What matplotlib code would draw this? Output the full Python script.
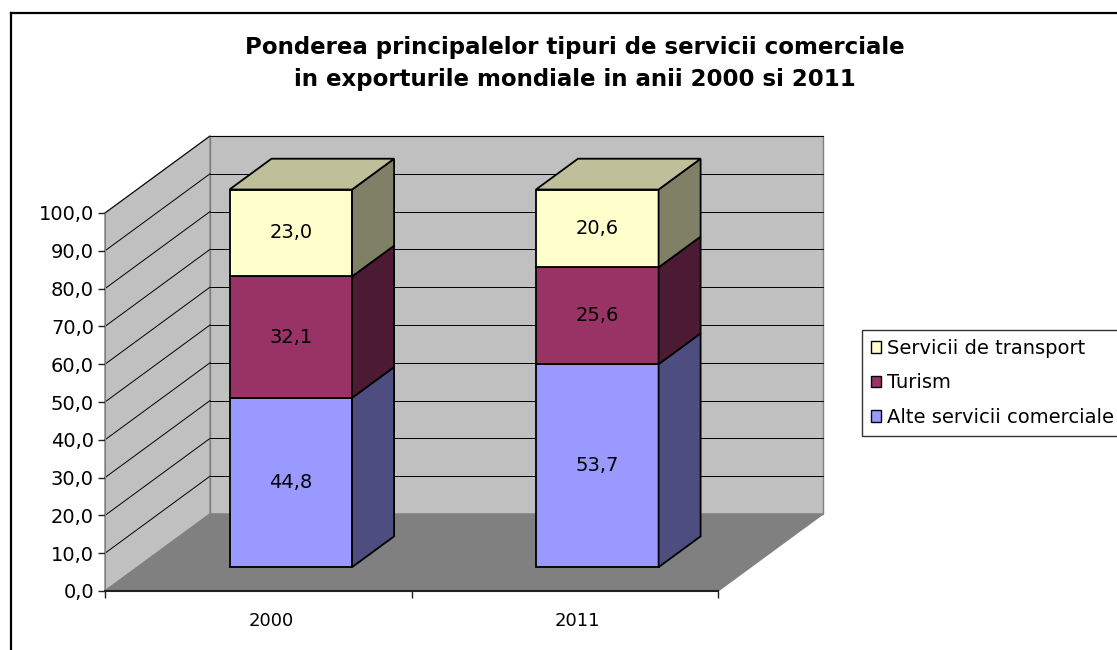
#!/usr/bin/env python3
# grafic 3D (stil Excel) cu coloane suprapuse: ponderea serviciilor comerciale
import matplotlib
matplotlib.use('Agg')
import matplotlib.pyplot as plt
from matplotlib.patches import Polygon, Patch
from matplotlib.lines import Line2D
import matplotlib.transforms as mtransforms

plt.rcParams['font.family'] = ['DejaVu Sans']

# date
ani = ['2000', '2011']
serii = ['Alte servicii comerciale', 'Turism', 'Servicii de transport']
alte_servicii = [44.8, 53.7]
turism = [32.1, 25.6]
transport = [23.0, 20.6]
culori = ['#9999FF', '#993366', '#FFFFCC']
valori_y = [0, 10, 20, 30, 40, 50, 60, 70, 80, 90, 100]

# proiectie oblica: adancime completa in unitati de date
DX = 105 / 306.5
DY = 77 / 3.78


def p(x, y, z):
    return (x + z * DX, y + z * DY)


def umbra(hexcol, f):
    r, g, b = matplotlib.colors.to_rgb(hexcol)
    return (r * f, g * f, b * f)


fig = plt.figure(figsize=(11.17, 6.5), dpi=100)
ax = fig.add_axes([105 / 1117, 59 / 650, 613 / 1117, 378 / 650])
ax.set_xlim(0, 2)
ax.set_ylim(0, 100)

# pereti si podea
perete = '#C0C0C0'
ax.add_patch(Polygon([p(0, 0, 1), p(2, 0, 1), p(2, 100, 1), p(0, 100, 1)],
                     fc=perete, ec='#808080', lw=1, clip_on=False, zorder=0))
ax.add_patch(Polygon([p(0, 0, 0), p(0, 0, 1), p(0, 100, 1), p(0, 100, 0)],
                     fc=perete, ec='#808080', lw=1, clip_on=False, zorder=0))
ax.add_patch(Polygon([p(0, 0, 0), p(2, 0, 0), p(2, 0, 1), p(0, 0, 1)],
                     fc='#808080', ec='#808080', lw=1, clip_on=False, zorder=0.5))

# linii de grila
for v in valori_y[1:]:
    xs, ys = zip(p(0, v, 1), p(2, v, 1))
    ax.plot(xs, ys, color='black', lw=0.7, clip_on=False, zorder=1)
    xs, ys = zip(p(0, v, 0), p(0, v, 1))
    ax.plot(xs, ys, color='black', lw=0.7, clip_on=False, zorder=1)

# coloane
latime = 0.4
z0, z1 = 0.31, 0.71
for i in range(len(ani)):
    x0 = i + 0.5 - latime / 2
    x1 = i + 0.5 + latime / 2
    baza = 0
    segmente = [alte_servicii[i], turism[i], transport[i]]
    for k, val in enumerate(segmente):
        sus = baza + val
        c = culori[k]
        ax.add_patch(Polygon([p(x0, baza, z0), p(x1, baza, z0), p(x1, sus, z0), p(x0, sus, z0)],
                             fc=c, ec='black', lw=1.3, clip_on=False, zorder=3))
        ax.add_patch(Polygon([p(x1, baza, z0), p(x1, baza, z1), p(x1, sus, z1), p(x1, sus, z0)],
                             fc=umbra(c, 0.5), ec='black', lw=1.3, clip_on=False, zorder=3))
        if k == len(segmente) - 1:
            ax.add_patch(Polygon([p(x0, sus, z0), p(x1, sus, z0), p(x1, sus, z1), p(x0, sus, z1)],
                                 fc=umbra(c, 0.75), ec='black', lw=1.3, clip_on=False, zorder=3))
        cx, cy = p(i + 0.5, baza + val / 2, z0)
        ax.text(cx, cy, f"{val:.1f}".replace('.', ','), ha='center', va='center',
                fontsize=14, zorder=4)
        baza = sus

# axe
for s in ['top', 'right']:
    ax.spines[s].set_visible(False)
ax.spines['left'].set_color('#808080')
ax.spines['bottom'].set_color('#202020')
ax.spines['bottom'].set_linewidth(1.5)
ax.set_yticks(valori_y)
ax.set_yticklabels([f"{v:.1f}".replace('.', ',') for v in valori_y], fontsize=14)
ax.tick_params(axis='y', length=5, width=1, color='#202020', pad=3)
ax.set_xticks([0, 1, 2], minor=True)
ax.tick_params(axis='x', which='minor', length=5, width=1, color='#202020')
ax.set_xticks([0.5, 1.5])
ax.set_xticklabels(ani, fontsize=13)
ax.tick_params(axis='x', which='major', length=0, pad=15)
for lbl in ax.get_xticklabels():
    lbl.set_transform(lbl.get_transform() + mtransforms.ScaledTranslation(0.13, 0, fig.dpi_scale_trans))
ax.patch.set_visible(False)

# titlu
fig.text(575 / 1117, 1 - 63.5 / 650,
         'Ponderea principalelor tipuri de servicii comerciale\nin exporturile mondiale in anii 2000 si 2011',
         ha='center', va='center', fontsize=16.5, fontweight='bold', linespacing=1.45)

# legenda
handles = [Patch(fc=culori[k], ec='black', lw=1) for k in [2, 1, 0]]
leg = fig.legend(handles, [serii[k] for k in [2, 1, 0]], loc='upper left',
                 bbox_to_anchor=(862 / 1117, 1 - 330 / 650), fontsize=14,
                 frameon=True, fancybox=False, edgecolor='black', handlelength=0.55,
                 handleheight=0.55, handletextpad=0.3, labelspacing=0.8,
                 borderpad=0.45, borderaxespad=0)
leg.get_frame().set_linewidth(1)

# chenar exterior
fig.add_artist(Line2D([11 / 1117, 1], [1 - 13 / 650, 1 - 13 / 650], color='black', lw=1.6))
fig.add_artist(Line2D([11 / 1117, 11 / 1117], [1 - 13 / 650, 0], color='black', lw=1.6))

fig.savefig('out.png', dpi=100)
